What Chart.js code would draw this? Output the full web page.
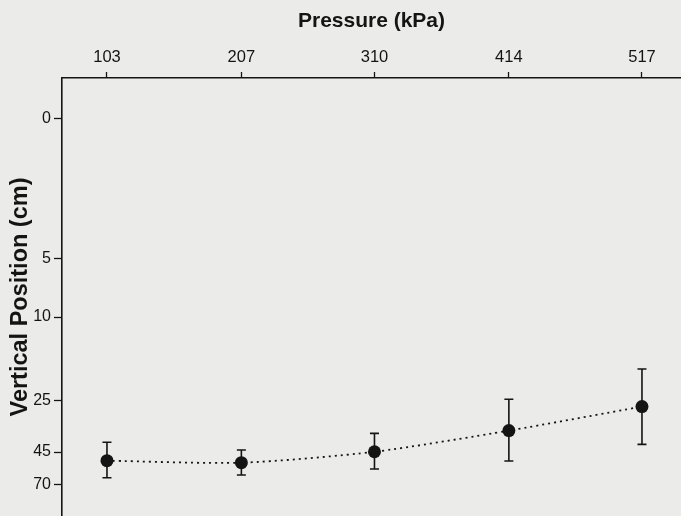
<!DOCTYPE html>
<html>
<head>
<meta charset="utf-8">
<title>Vertical position vs pressure</title>
<script src="https://cdn.jsdelivr.net/npm/chart.js@4/dist/chart.umd.min.js"></script>
<style>
  html, body { margin: 0; padding: 0; background: #ebebea; overflow: hidden; }
  #chart { display: block; }
</style>
</head>
<body>
<canvas id="chart" width="681" height="516"></canvas>
<script>
// data
const pressures = [103, 207, 310, 414, 517];
const meanPos = [51.6, 53.1, 44.9, 36.6, 27.2];
const posLow = [41.2, 44.2, 37.7, 24.7, 19.3];
const posHigh = [64.5, 62.4, 57.9, 51.8, 42.0];

const xTicks = [103, 207, 310, 414, 517];
const yTicks = [0, 5, 10, 25, 45, 70];

// the depth axis is not evenly spaced: where each y tick sits, as a fraction of the plot height
const yTickFrac = [0.0936, 0.4132, 0.5457, 0.7374, 0.8539, 0.9292];

function fracForValue(v) {
  let i = 0;
  while (i < yTicks.length - 2 && v > yTicks[i + 1]) i++;
  return yTickFrac[i] + (v - yTicks[i]) * (yTickFrac[i + 1] - yTickFrac[i]) / (yTicks[i + 1] - yTicks[i]);
}

function valueForFrac(f) {
  let i = 0;
  while (i < yTickFrac.length - 2 && f > yTickFrac[i + 1]) i++;
  return yTicks[i] + (f - yTickFrac[i]) * (yTicks[i + 1] - yTicks[i]) / (yTickFrac[i + 1] - yTickFrac[i]);
}

class StretchedScale extends Chart.LinearScale {
  getPixelForValue(v) {
    return this.top + fracForValue(v) * (this.bottom - this.top);
  }
  getValueForPixel(p) {
    return valueForFrac((p - this.top) / (this.bottom - this.top));
  }
}
StretchedScale.id = 'stretched';
StretchedScale.defaults = {};
Chart.register(StretchedScale);

// plot box runs off the right and bottom edges, so drop the label margins chart.js reserves
function noMargins(s) {
  s.paddingTop = s.paddingBottom = s.paddingLeft = s.paddingRight = 0;
}

const ink = '#141414';
const fontFamily = '"Liberation Sans", Arial, Helvetica, sans-serif';

const paperBg = {
  id: 'paperBg',
  beforeDraw(chart) {
    const ctx = chart.ctx;
    ctx.save();
    ctx.fillStyle = '#ebebea';
    ctx.fillRect(0, 0, chart.width, chart.height);
    ctx.restore();
  }
};

const errorBars = {
  id: 'errorBars',
  beforeDatasetsDraw(chart) {
    const { ctx, scales: { x, y } } = chart;
    ctx.save();
    ctx.strokeStyle = ink;
    ctx.lineWidth = 1.6;
    pressures.forEach((p, i) => {
      const px = x.getPixelForValue(p);
      const top = y.getPixelForValue(posLow[i]);
      const bot = y.getPixelForValue(posHigh[i]);
      ctx.beginPath();
      ctx.moveTo(px, top);
      ctx.lineTo(px, bot);
      ctx.moveTo(px - 4.5, top);
      ctx.lineTo(px + 4.5, top);
      ctx.moveTo(px - 4.5, bot);
      ctx.lineTo(px + 4.5, bot);
      ctx.stroke();
    });
    ctx.restore();
  }
};

new Chart(document.getElementById('chart'), {
  type: 'line',
  data: {
    datasets: [{
      data: pressures.map((p, i) => ({ x: p, y: meanPos[i] })),
      borderColor: ink,
      borderWidth: 1.8,
      borderDash: [2, 4],
      tension: 0.25,
      pointRadius: 6.5,
      pointBackgroundColor: ink,
      pointBorderColor: ink,
      pointBorderWidth: 0,
      fill: false,
      clip: false
    }]
  },
  options: {
    responsive: false,
    animation: false,
    layout: { padding: 0, autoPadding: false },
    plugins: {
      legend: { display: false },
      tooltip: { enabled: false }
    },
    scales: {
      x: {
        type: 'linear',
        position: 'top',
        min: 68.2,
        max: 547.2,
        afterBuildTicks: s => { s.ticks = xTicks.map(v => ({ value: v })); },
        afterFit: s => { s.height = 78; noMargins(s); },
        ticks: {
          autoSkip: false,
          maxRotation: 0,
          padding: 5,
          color: ink,
          font: { family: fontFamily, size: 16.5 },
          callback: v => String(v)
        },
        grid: {
          drawOnChartArea: false,
          drawTicks: true,
          tickLength: 6,
          tickColor: ink,
          tickWidth: 1.3
        },
        border: { display: true, color: ink, width: 1.6 },
        title: {
          display: true,
          text: 'Pressure (kPa)',
          color: ink,
          font: { family: fontFamily, size: 21, weight: 'bold' },
          padding: { top: 9, bottom: 0 }
        }
      },
      y: {
        type: 'stretched',
        position: 'left',
        afterBuildTicks: s => { s.ticks = yTicks.map(v => ({ value: v })); },
        afterFit: s => { s.width = 62; noMargins(s); },
        ticks: {
          autoSkip: false,
          padding: 3,
          color: ink,
          font: { family: fontFamily, size: 16 },
          callback: v => String(v)
        },
        grid: {
          drawOnChartArea: false,
          drawTicks: true,
          tickLength: 8,
          tickColor: ink,
          tickWidth: 1.3
        },
        border: { display: true, color: ink, width: 1.6 },
        title: {
          display: true,
          text: 'Vertical Position (cm)',
          color: ink,
          font: { family: fontFamily, size: 23.5, weight: 'bold' },
          padding: { top: 6, bottom: 0 }
        }
      }
    }
  },
  plugins: [paperBg, errorBars]
});
</script>
</body>
</html>
